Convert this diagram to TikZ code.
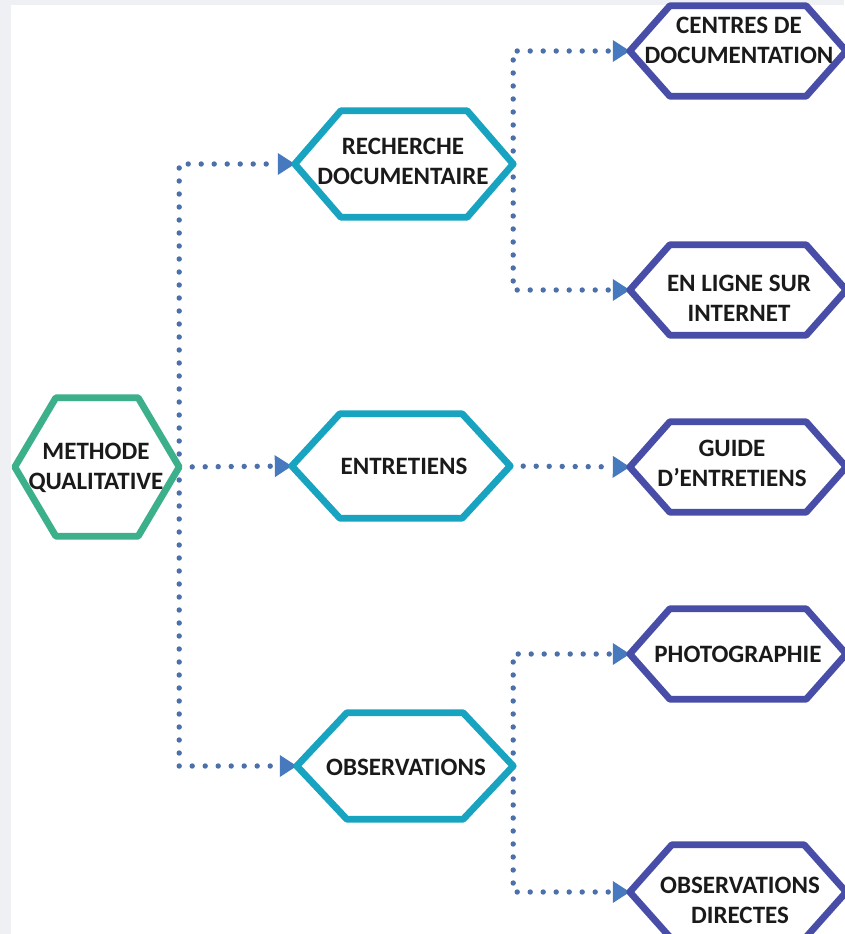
\documentclass[tikz,border=0pt]{standalone}
\usepackage{fontspec}
\setmainfont{Carlito}
\usetikzlibrary{arrows.meta}
\definecolor{grn}{HTML}{3BB08A}
\definecolor{tealc}{HTML}{18A3C0}
\definecolor{purp}{HTML}{484EA8}
\definecolor{dotc}{HTML}{4B70AA}
\definecolor{tipc}{HTML}{4679BD}
\definecolor{bgc}{HTML}{EEF0F4}
\definecolor{txtc}{HTML}{1A1A1A}
\newcommand\hexdraw[3]{\draw[hexline,#3] (#1.west) -- ([xshift=#2]#1.north west) -- ([xshift=-#2]#1.north east) -- (#1.east) -- ([xshift=-#2]#1.south east) -- ([xshift=#2]#1.south west) -- cycle;}
\tikzset{
  hexbox/.style 2 args={rectangle, draw=none, inner sep=0pt, minimum width=#1, minimum height=#2},
  hexline/.style={line width=6.8pt, line join=round, fill=white},
  lbl/.style={inner sep=0pt, align=center, text=txtc, font=\fontsize{25}{30}\selectfont\bfseries},
  dotline/.style={draw=dotc, line width=5.4pt, line cap=round, dash pattern=on 0pt off 13pt},
  tipd/.style={-{Triangle[length=17pt,width=22pt,line width=0pt,color=tipc]}}
}
\begin{document}
\begin{tikzpicture}[x=1pt,y=-1pt]
\useasboundingbox (0,0) rectangle (844,934);
\fill[bgc] (0,0) rectangle (844,934);
\fill[white] (11,5) rectangle (844,934);
% hexagon boxes
\node[hexbox={164pt}{138pt}] (mq) at (97,467) {};
\node[hexbox={218pt}{106pt}] (rd) at (404,164) {};
\node[hexbox={218pt}{104pt}] (ent) at (401,466) {};
\node[hexbox={216pt}{106pt}] (obs) at (405,766) {};
\node[hexbox={216pt}{90pt}] (cd) at (738,51) {};
\node[hexbox={216pt}{90pt}] (el) at (738,290) {};
\node[hexbox={216pt}{90pt}] (gd) at (738,467) {};
\node[hexbox={216pt}{90pt}] (ph) at (738,654) {};
\node[hexbox={216pt}{94pt}] (od) at (738,892) {};
% connectors
\draw[dotline,tipd] (mq.east) |- (rd.west);
\draw[dotline,tipd] (mq.east) -- (ent.west);
\draw[dotline,tipd] (mq.east) |- (obs.west);
\draw[dotline,tipd] (rd.east) |- (cd.west);
\draw[dotline,tipd] (rd.east) |- (el.west);
\draw[dotline,tipd] (ent.east) -- (gd.west);
\draw[dotline,tipd] (obs.east) |- (ph.west);
\draw[dotline,tipd] (obs.east) |- (od.west);
% outlines
\hexdraw{mq}{41pt}{draw=grn}
\hexdraw{rd}{46pt}{draw=tealc}
\hexdraw{ent}{48pt}{draw=tealc}
\hexdraw{obs}{50pt}{draw=tealc}
\hexdraw{cd}{40pt}{draw=purp}
\hexdraw{el}{40pt}{draw=purp}
\hexdraw{gd}{40pt}{draw=purp}
\hexdraw{ph}{40pt}{draw=purp}
\hexdraw{od}{42pt}{draw=purp}
% texts
\node[lbl] (mqt) at (96,468) {METHODE\\QUALITATIVE};
\node[lbl] (rdt) at (403,161) {RECHERCHE\\DOCUMENTAIRE};
\node[lbl] (entt) at (404,466) {ENTRETIENS};
\node[lbl] (obst) at (406,767) {OBSERVATIONS};
\node[lbl] (cdt) at (739,40) {CENTRES DE\\DOCUMENTATION};
\node[lbl] (elt) at (739,298) {EN LIGNE SUR\\INTERNET};
\node[lbl] (gdt) at (732,463) {GUIDE\\D’ENTRETIENS};
\node[lbl] (pht) at (738,654) {PHOTOGRAPHIE};
\node[lbl] (odt) at (740,900) {OBSERVATIONS\\DIRECTES};
\end{tikzpicture}
\end{document}
